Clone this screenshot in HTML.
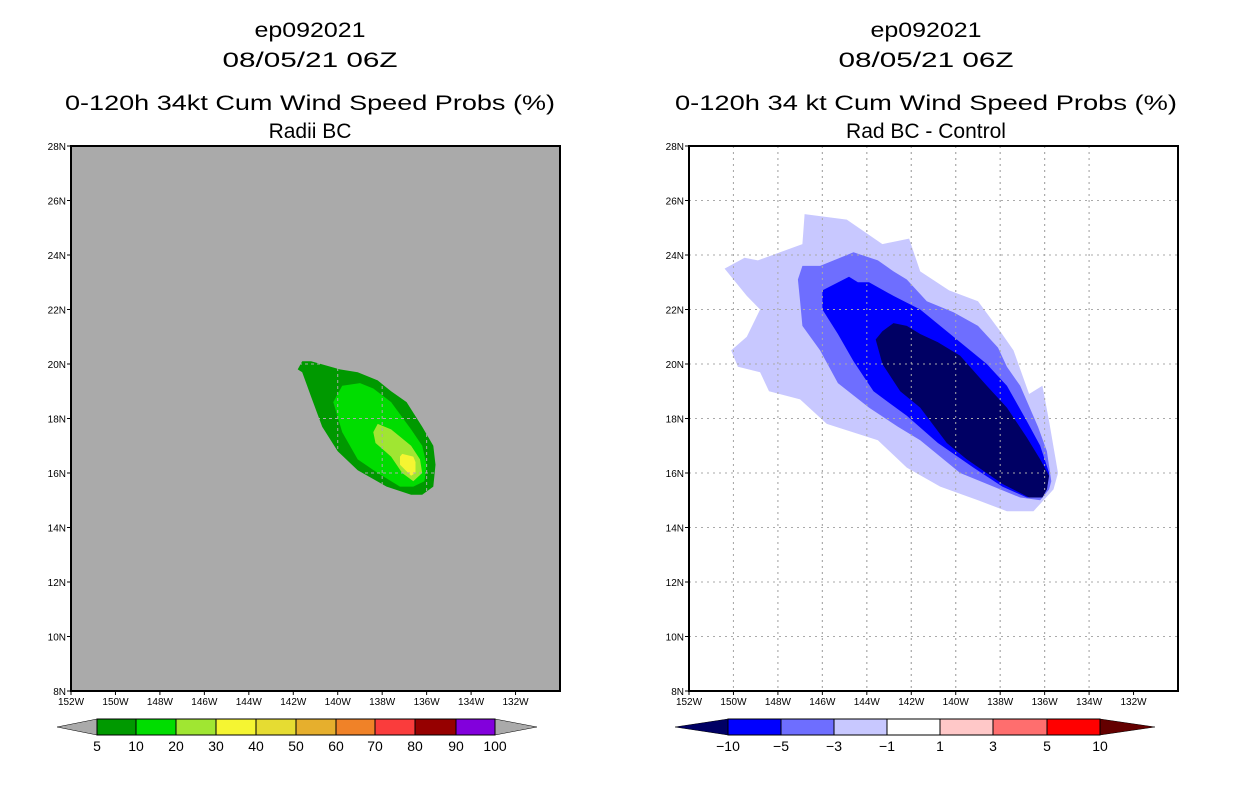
<!DOCTYPE html>
<html><head><meta charset="utf-8"><style>
html,body{margin:0;padding:0;background:#fff;}
svg{display:block;font-family:"Liberation Sans",sans-serif;}
</style></head><body>
<svg id="chart" width="1236" height="800" viewBox="0 0 1236 800" xmlns="http://www.w3.org/2000/svg">
<g id="left"></g>
<g id="right"></g>
</svg>
<script>
// ---- data (lon in degrees West, lat in degrees North) ----
const lonTicks = [152,150,148,146,144,142,140,138,136,134,132];
const latTicks = [8,10,12,14,16,18,20,22,24,26,28];
const leftLevels = ["5","10","20","30","40","50","60","70","80","90","100"];
const leftColors = ["#009900","#00dd00","#a0e632","#f5f532","#e6dc32","#e6af2d","#f08228","#fa3c3c","#960000","#8200dc"];
const rightLevels = ["-10","-5","-3","-1","1","3","5","10"];
const rightColors = ["#0000ff","#6e6eff","#c8c8ff","#ffffff","#ffc8c8","#ff6e6e","#ff0000"];
const probC5 = [[141.8,19.8],[141.6,20.1],[141.2,20.1],[139.9,19.8],[139.1,19.7],[138.2,19.4],[137.6,19.0],[136.9,18.6],[136.2,17.7],[135.7,17.0],[135.6,16.3],[135.7,15.5],[136.2,15.2],[136.7,15.2],[137.8,15.5],[139.1,16.1],[140.0,16.8],[140.7,17.7],[141.2,18.8],[141.6,19.7]];
const probC10 = [[140.2,18.6],[139.8,19.2],[139.0,19.3],[138.4,19.1],[137.6,18.6],[136.7,17.6],[136.2,17.0],[136.0,16.3],[136.1,15.7],[136.6,15.5],[137.2,15.5],[138.2,16.0],[139.1,16.5],[139.8,17.5]];
const probC20 = [[138.4,17.5],[138.2,17.8],[137.6,17.6],[136.7,17.0],[136.3,16.5],[136.2,16.0],[136.6,15.7],[137.1,16.0],[137.6,16.6],[138.3,17.1]];
const probC30 = [[137.2,16.6],[137.1,16.7],[136.6,16.6],[136.5,16.4],[136.5,16.0],[136.7,15.9],[137.2,16.3]];
const diffM1 = [[150.1,20.5],[149.4,21.0],[148.8,22.0],[149.4,22.5],[150.4,23.5],[149.5,23.9],[148.9,23.8],[147.9,24.1],[146.9,24.4],[146.8,25.5],[144.9,25.3],[143.3,24.4],[142.1,24.6],[141.6,23.4],[140.3,22.7],[139.0,22.3],[138.0,21.2],[137.4,20.5],[136.7,18.9],[136.1,19.2],[135.8,17.9],[135.4,16.0],[135.6,15.4],[136.5,14.6],[137.7,14.6],[139.0,15.0],[140.7,15.5],[142.2,16.2],[143.5,17.2],[145.8,17.8],[147.0,18.7],[148.4,19.0],[148.8,19.7],[149.8,19.9]];
const diffM3 = [[146.9,23.6],[146.1,23.6],[144.6,24.1],[143.5,23.8],[142.8,23.4],[142.2,23.1],[141.3,22.3],[140.1,21.9],[139.0,21.4],[138.1,20.6],[137.7,19.9],[137.1,19.2],[136.3,17.7],[135.9,16.8],[135.7,15.7],[135.8,15.4],[136.2,15.0],[137.1,15.1],[138.3,15.5],[139.8,16.0],[141.6,17.2],[142.6,17.7],[143.9,18.4],[145.3,19.3],[146.1,20.5],[146.9,21.4],[147.0,22.3],[147.1,23.1]];
const diffM5 = [[146.0,22.7],[144.8,23.2],[144.4,23.0],[143.9,23.0],[142.8,22.5],[141.6,22.0],[140.4,21.2],[139.5,20.6],[138.6,20.0],[137.7,19.2],[136.8,17.9],[136.2,17.0],[135.8,16.0],[135.9,15.4],[136.2,15.1],[136.8,15.1],[137.9,15.5],[139.2,16.2],[140.8,17.1],[142.2,18.1],[143.7,19.0],[144.6,20.1],[145.3,21.1],[146.0,22.0]];
const diffM10 = [[142.8,21.5],[142.2,21.4],[141.6,21.1],[140.8,20.8],[139.8,20.3],[138.6,19.2],[137.7,18.4],[136.8,17.3],[136.2,16.5],[135.8,15.9],[135.9,15.4],[136.1,15.1],[136.7,15.1],[137.9,15.6],[139.5,16.5],[140.4,17.1],[141.6,18.4],[142.5,19.0],[143.3,20.0],[143.6,20.9],[143.3,21.2]];

const NS="http://www.w3.org/2000/svg";
function mk(parent,tag,attrs,text){const e=document.createElementNS(NS,tag);for(const k in attrs)e.setAttribute(k,attrs[k]);if(text!==undefined)e.textContent=text;parent.appendChild(e);return e;}
const W=489,H=545,TOP=146;
function axes(x0){return {x:lon=>x0+(152-lon)/22*W, y:lat=>TOP+H-(lat-8)/20*H};}
function poly(g,ax,pts,fill,name){const p=mk(g,'polygon',{points:pts.map(q=>ax.x(q[0]).toFixed(1)+','+ax.y(q[1]).toFixed(1)).join(' '),fill:fill});

}
function titles(g,cx,l3,l3w,l4){
 const t=[["ep092021",37,111,"storm-id-title"],["08/05/21 06Z",67,175,"date-title"],[l3,110,l3w,"product-title"],[l4,138,null,"subtitle"]];
 t.forEach(a=>{const at={x:cx,y:a[1],'text-anchor':'middle','font-size':21,fill:'#000'};if(a[2]){at.textLength=a[2];at.lengthAdjust='spacingAndGlyphs';}
  const e=mk(g,'text',at,a[0]);
  
  });
}
function frame(g,ax,x0,gridColor,gridDash){
 const gg=mk(g,'g',{});
 
 
 lonTicks.slice(1,-1).forEach(l=>mk(gg,'line',{x1:ax.x(l),x2:ax.x(l),y1:TOP,y2:TOP+H,stroke:gridColor,'stroke-width':1,'stroke-dasharray':gridDash}));
 latTicks.slice(1,-1).forEach(l=>mk(gg,'line',{x1:x0,x2:x0+W,y1:ax.y(l),y2:ax.y(l),stroke:gridColor,'stroke-width':1,'stroke-dasharray':gridDash}));
 const f=mk(g,'rect',{x:x0,y:TOP,width:W,height:H,fill:'none',stroke:'#000','stroke-width':2});
 
 
 lonTicks.forEach(l=>{mk(g,'line',{x1:ax.x(l),x2:ax.x(l),y1:TOP+H,y2:TOP+H+4,stroke:'#000'});
  const e=mk(g,'text',{x:ax.x(l),y:TOP+H+14,'text-anchor':'middle','font-size':10,fill:'#000'},l+'W');
  
  });
 latTicks.forEach(l=>{mk(g,'line',{x1:x0-4,x2:x0,y1:ax.y(l),y2:ax.y(l),stroke:'#000'});
  const e=mk(g,'text',{x:x0-5,y:ax.y(l)+4,'text-anchor':'end','font-size':10,fill:'#000'},l+'N');
  
  });
}
function colorbar(g,tipL,edges,tipR,colors,labels,lcol,rcol){
 const y1=719,y2=735,ym=727;
 const lt=mk(g,'polygon',{points:`${tipL},${ym} ${edges[0]},${y1} ${edges[0]},${y2}`,fill:lcol,stroke:'#000','stroke-width':0.5});
 
 
 const n=edges.length-1;
 const rt=mk(g,'polygon',{points:`${edges[n]},${y1} ${tipR},${ym} ${edges[n]},${y2}`,fill:rcol,stroke:'#000','stroke-width':0.5});
 
 
 for(let i=0;i<n;i++){const r=mk(g,'rect',{x:edges[i],y:y1,width:edges[i+1]-edges[i],height:y2-y1,fill:colors[i],stroke:'#000','stroke-width':1});
  
  }
 labels.forEach((s,i)=>{const e=mk(g,'text',{x:edges[i],y:751,'text-anchor':'middle','font-size':14,fill:'#000'},s.replace('-','\u2212'));
  
  });
}
// left panel
const L=document.getElementById('left');
const axL=axes(71);
titles(L,310,"0-120h 34kt Cum Wind Speed Probs (%)",490,"Radii BC");
mk(L,'rect',{x:71,y:TOP,width:W,height:H,fill:'#aaaaaa'});
poly(L,axL,probC5,leftColors[0],'contour-5pct');
poly(L,axL,probC10,leftColors[1],'contour-10pct');
poly(L,axL,probC20,leftColors[2],'contour-20pct');
poly(L,axL,probC30,leftColors[3],'contour-30pct');
frame(L,axL,71,'#aaaaaa','3,3');
colorbar(L,57,[97,136,176,216,256,296,336,375,415,456,495],537,leftColors,leftLevels,'#aaaaaa','#aaaaaa');
// right panel
const R=document.getElementById('right');
const axR=axes(689);
titles(R,926,"0-120h 34 kt Cum Wind Speed Probs (%)",502,"Rad BC - Control");
mk(R,'rect',{x:689,y:TOP,width:W,height:H,fill:'#fff'});
frame(R,axR,689,'#aaaaaa','2,4');
poly(R,axR,diffM1,'#c8c8ff','contour-minus1');
poly(R,axR,diffM3,'#6e6eff','contour-minus3');
poly(R,axR,diffM5,'#0000ff','contour-minus5');
poly(R,axR,diffM10,'#000064','contour-minus10');
// redraw grid over fills
const gr=mk(R,'g',{});


lonTicks.slice(1,-1).forEach(l=>mk(gr,'line',{x1:axR.x(l),x2:axR.x(l),y1:TOP,y2:TOP+H,stroke:'#aaaaaa','stroke-width':1,'stroke-dasharray':'2,4'}));
latTicks.slice(1,-1).forEach(l=>mk(gr,'line',{x1:689,x2:689+W,y1:axR.y(l),y2:axR.y(l),stroke:'#aaaaaa','stroke-width':1,'stroke-dasharray':'2,4'}));
mk(R,'rect',{x:689,y:TOP,width:W,height:H,fill:'none',stroke:'#000','stroke-width':2});
colorbar(R,675,[728,781,834,887,940,993,1047,1100],1155,rightColors,rightLevels,'#000064','#640000');
</script>
</body></html>
